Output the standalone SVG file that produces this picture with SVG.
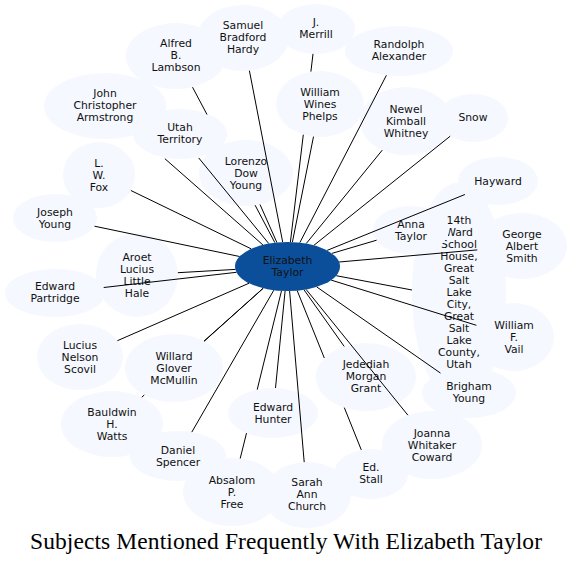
<svg xmlns="http://www.w3.org/2000/svg" width="572" height="565" viewBox="0 0 572 565">
<style>
.n ellipse{fill:#f5f8fe;stroke:none}
.n text,.c text{font-family:"DejaVu Sans",sans-serif;font-size:10.8px;text-anchor:middle;fill:#111}
#edges path{stroke:#000;stroke-width:1;fill:none}
.title{font-family:"Liberation Serif",serif;font-size:23.5px;text-anchor:middle;fill:#000}
</style>
<rect width="572" height="565" fill="#fff"/>
<g id="nodes">
<g id="n_14thward" class="n"><ellipse cx="459" cy="292.5" rx="47" ry="110"/><text><tspan x="459" y="224.3">14th</tspan><tspan x="459" y="236.3">Ward</tspan><tspan x="459" y="248.3">School</tspan><tspan x="459" y="260.3">House,</tspan><tspan x="459" y="272.3">Great</tspan><tspan x="459" y="284.3">Salt</tspan><tspan x="459" y="296.3">Lake</tspan><tspan x="459" y="308.3">City,</tspan><tspan x="459" y="320.3">Great</tspan><tspan x="459" y="332.3">Salt</tspan><tspan x="459" y="344.3">Lake</tspan><tspan x="459" y="356.3">County,</tspan><tspan x="459" y="368.3">Utah</tspan></text></g>
<g id="n_samuel" class="n"><ellipse cx="243" cy="38" rx="46" ry="33"/><text><tspan x="243" y="28.8">Samuel</tspan><tspan x="243" y="40.8">Bradford</tspan><tspan x="243" y="52.8">Hardy</tspan></text></g>
<g id="n_alfred" class="n"><ellipse cx="176" cy="56" rx="50" ry="33"/><text><tspan x="176" y="46.8">Alfred</tspan><tspan x="176" y="58.8">B.</tspan><tspan x="176" y="70.8">Lambson</tspan></text></g>
<g id="n_merrill" class="n"><ellipse cx="316" cy="29" rx="39" ry="25"/><text><tspan x="316" y="26.3">J.</tspan><tspan x="316" y="38.3">Merrill</tspan></text></g>
<g id="n_randolph" class="n"><ellipse cx="399" cy="51" rx="54" ry="25"/><text><tspan x="399" y="48.3">Randolph</tspan><tspan x="399" y="60.3">Alexander</tspan></text></g>
<g id="n_john" class="n"><ellipse cx="105" cy="106" rx="61" ry="33"/><text><tspan x="105" y="97.3">John</tspan><tspan x="105" y="109.3">Christopher</tspan><tspan x="105" y="121.3">Armstrong</tspan></text></g>
<g id="n_phelps" class="n"><ellipse cx="320" cy="104" rx="44" ry="33"/><text><tspan x="320" y="95.8">William</tspan><tspan x="320" y="107.8">Wines</tspan><tspan x="320" y="119.8">Phelps</tspan></text></g>
<g id="n_newel" class="n"><ellipse cx="406" cy="121" rx="46" ry="34"/><text><tspan x="406" y="112.8">Newel</tspan><tspan x="406" y="124.8">Kimball</tspan><tspan x="406" y="136.8">Whitney</tspan></text></g>
<g id="n_snow" class="n"><ellipse cx="473" cy="118" rx="35" ry="24"/><text><tspan x="473" y="120.8">Snow</tspan></text></g>
<g id="n_lorenzo" class="n"><ellipse cx="246" cy="173" rx="47" ry="33"/><text><tspan x="246" y="164.8">Lorenzo</tspan><tspan x="246" y="176.8">Dow</tspan><tspan x="246" y="188.8">Young</tspan></text></g>
<g id="n_utah" class="n"><ellipse cx="180" cy="134" rx="47" ry="25"/><text><tspan x="180" y="130.8">Utah</tspan><tspan x="180" y="142.8">Territory</tspan></text></g>
<g id="n_fox" class="n"><ellipse cx="99" cy="175" rx="36" ry="33"/><text><tspan x="99" y="166.8">L.</tspan><tspan x="99" y="178.8">W.</tspan><tspan x="99" y="190.8">Fox</tspan></text></g>
<g id="n_hayward" class="n"><ellipse cx="498" cy="181" rx="40" ry="24"/><text><tspan x="498" y="184.8">Hayward</tspan></text></g>
<g id="n_joseph" class="n"><ellipse cx="55" cy="218" rx="42" ry="24"/><text><tspan x="55" y="215.8">Joseph</tspan><tspan x="55" y="227.8">Young</tspan></text></g>
<g id="n_anna" class="n"><ellipse cx="411" cy="230" rx="38" ry="24"/><text><tspan x="411" y="227.8">Anna</tspan><tspan x="411" y="239.8">Taylor</tspan></text></g>
<g id="n_george" class="n"><ellipse cx="522" cy="246" rx="45" ry="33"/><text><tspan x="522" y="237.8">George</tspan><tspan x="522" y="249.8">Albert</tspan><tspan x="522" y="261.8">Smith</tspan></text></g>
<g id="n_aroet" class="n"><ellipse cx="137" cy="275" rx="41" ry="42"/><text><tspan x="137" y="260.8">Aroet</tspan><tspan x="137" y="272.8">Lucius</tspan><tspan x="137" y="284.8">Little</tspan><tspan x="137" y="296.8">Hale</tspan></text></g>
<g id="n_partridge" class="n"><ellipse cx="55" cy="293" rx="50" ry="24"/><text><tspan x="55" y="290.3">Edward</tspan><tspan x="55" y="302.3">Partridge</tspan></text></g>
<g id="n_scovil" class="n"><ellipse cx="80" cy="357" rx="43" ry="33"/><text><tspan x="80" y="349.3">Lucius</tspan><tspan x="80" y="361.3">Nelson</tspan><tspan x="80" y="373.3">Scovil</tspan></text></g>
<g id="n_willard" class="n"><ellipse cx="174" cy="368" rx="49" ry="34"/><text><tspan x="174" y="359.8">Willard</tspan><tspan x="174" y="371.8">Glover</tspan><tspan x="174" y="383.8">McMullin</tspan></text></g>
<g id="n_vail" class="n"><ellipse cx="514" cy="337" rx="40" ry="34"/><text><tspan x="514" y="328.8">William</tspan><tspan x="514" y="340.8">F.</tspan><tspan x="514" y="352.8">Vail</tspan></text></g>
<g id="n_jedediah" class="n"><ellipse cx="366" cy="377" rx="50" ry="34"/><text><tspan x="366" y="368.3">Jedediah</tspan><tspan x="366" y="380.3">Morgan</tspan><tspan x="366" y="392.3">Grant</tspan></text></g>
<g id="n_brigham" class="n"><ellipse cx="469" cy="393" rx="47" ry="25"/><text><tspan x="469" y="390.3">Brigham</tspan><tspan x="469" y="402.3">Young</tspan></text></g>
<g id="n_hunter" class="n"><ellipse cx="273" cy="413" rx="45" ry="25"/><text><tspan x="273" y="410.8">Edward</tspan><tspan x="273" y="422.8">Hunter</tspan></text></g>
<g id="n_bauldwin" class="n"><ellipse cx="112" cy="424" rx="51" ry="33"/><text><tspan x="112" y="415.8">Bauldwin</tspan><tspan x="112" y="427.8">H.</tspan><tspan x="112" y="439.8">Watts</tspan></text></g>
<g id="n_joanna" class="n"><ellipse cx="432" cy="445" rx="50" ry="34"/><text><tspan x="432" y="436.8">Joanna</tspan><tspan x="432" y="448.8">Whitaker</tspan><tspan x="432" y="460.8">Coward</tspan></text></g>
<g id="n_daniel" class="n"><ellipse cx="178" cy="456" rx="48" ry="25"/><text><tspan x="178" y="453.8">Daniel</tspan><tspan x="178" y="465.8">Spencer</tspan></text></g>
<g id="n_stall" class="n"><ellipse cx="371" cy="474" rx="37" ry="25"/><text><tspan x="371" y="470.8">Ed.</tspan><tspan x="371" y="482.8">Stall</tspan></text></g>
<g id="n_absalom" class="n"><ellipse cx="232" cy="492" rx="49" ry="34"/><text><tspan x="232" y="483.8">Absalom</tspan><tspan x="232" y="495.8">P.</tspan><tspan x="232" y="507.8">Free</tspan></text></g>
<g id="n_sarah" class="n"><ellipse cx="307" cy="495" rx="44" ry="33"/><text><tspan x="307" y="486.3">Sarah</tspan><tspan x="307" y="498.3">Ann</tspan><tspan x="307" y="510.3">Church</tspan></text></g>
</g>
<g id="edges">
<path d="M282.7,242.1L249.4,70.7"/>
<path d="M274.9,242.7L255.1,205.2M207,114.5L192.5,87.2"/>
<path d="M290.4,242L303.3,134.7M310.9,71.6L313,53.9"/>
<path d="M299.8,242.7L386.4,75.3"/>
<path d="M262.9,244.9L164.9,158.7"/>
<path d="M268.8,243.6L198.7,157.9"/>
<path d="M292.4,242.1L313.5,136.6"/>
<path d="M306.2,243.6L382.3,150.1"/>
<path d="M313.9,245.3L450.2,136.2"/>
<path d="M276.9,242.5L260,204.5"/>
<path d="M251.1,248.8L130.9,190.5"/>
<path d="M327.1,250.4L464.9,194.5"/>
<path d="M239.6,256.5L94.5,226.2"/>
<path d="M331.9,253.4L376.6,240.2"/>
<path d="M336.2,275.7L412,290"/>
<path d="M339.1,262L477.3,249.9"/>
<path d="M235.4,269.4L177.9,272.7"/>
<path d="M236.5,272.3L103.7,287.5"/>
<path d="M249.1,283.2L117.4,340.7"/>
<path d="M263.2,288.2L204,341.1"/>
<path d="M331.2,280.1L476.4,325.3"/>
<path d="M304,289.8L344.2,346.4"/>
<path d="M316.7,286.9L440.5,373.1"/>
<path d="M285.1,291L275.5,388"/>
<path d="M263.3,288.2L204.1,341.3M144.3,395L141.8,397.2"/>
<path d="M306.1,289.4L407.9,415.2"/>
<path d="M273.8,290.2L191.8,432.1"/>
<path d="M297.2,290.6L324.3,358M344.3,407.6L361.3,449.9"/>
<path d="M281.5,290.8L257.2,389.6M246.5,433.1L240.2,458.5"/>
<path d="M289.6,291L304.2,462.1"/>
</g>
<g id="n_elizabeth" class="c"><ellipse cx="287.5" cy="266.5" rx="52.5" ry="24.5" fill="#0b4f9a"/><text><tspan x="287.5" y="264">Elizabeth</tspan><tspan x="287.5" y="276">Taylor</tspan></text></g>
<text class="title" x="286" y="549" textLength="512" lengthAdjust="spacing">Subjects Mentioned Frequently With Elizabeth Taylor</text>
</svg>
